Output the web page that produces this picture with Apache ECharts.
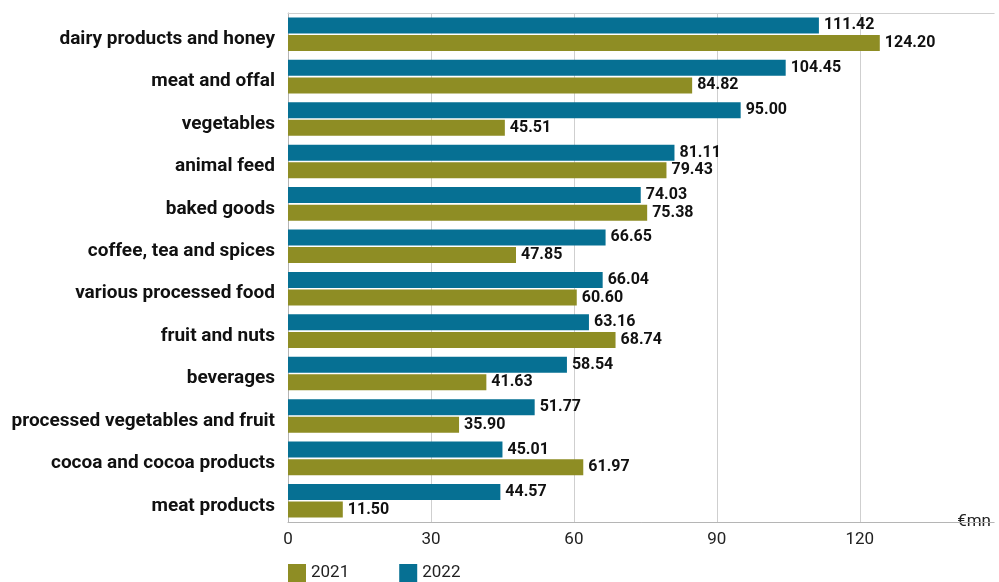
<!DOCTYPE html>
<html><head><meta charset="utf-8">
<script src="https://cdn.jsdelivr.net/npm/echarts@6/dist/echarts.min.js"></script>
<style>html,body{margin:0;padding:0;background:#fff}#c{width:999px;height:582px}</style>
</head><body><div id="c"></div>
<script>
const categories = ["dairy products and honey","meat and offal","vegetables","animal feed","baked goods","coffee, tea and spices","various processed food","fruit and nuts","beverages","processed vegetables and fruit","cocoa and cocoa products","meat products"];
const values2022 = [111.42,104.45,95.00,81.11,74.03,66.65,66.04,63.16,58.54,51.77,45.01,44.57];
const values2021 = [124.20,84.82,45.51,79.43,75.38,47.85,60.60,68.74,41.63,35.90,61.97,11.50];
const seriesNames = ["2021","2022"];
const axisUnit = "€mn";

const chart = echarts.init(document.getElementById('c'), null, {renderer:'canvas'});
const lbl = {show:true, position:'right', distance:5, color:'#111', fontFamily:'Roboto', fontWeight:'bold', fontSize:16, formatter:p=>p.value.toFixed(2)};
chart.setOption({
  animation:false,
  textStyle:{fontFamily:'Roboto'},
  grid:{left:288, right:0, top:13, bottom:60, containLabel:false},
  legend:{data:seriesNames, left:288, bottom:0, padding:0, itemWidth:18, itemHeight:18, itemGap:50, icon:'rect',
    textStyle:{fontFamily:'Roboto', fontSize:17, color:'#222'}},
  xAxis:[{type:'value', min:0, max:148.2, interval:30, position:'bottom',
    name:axisUnit, nameLocation:'end', nameGap:-43,
    nameTextStyle:{fontFamily:'Roboto', fontSize:17, color:'#222', backgroundColor:'#fff', padding:[6,5,0,6], align:'left', verticalAlign:'middle'},
    axisLine:{show:true, lineStyle:{color:'#b5b5b5', width:1}},
    axisTick:{show:false},
    axisLabel:{show:true, margin:9, fontFamily:'Roboto', fontSize:17, color:'#222', showMaxLabel:false},
    splitLine:{show:true, showMaxLine:false, lineStyle:{color:'#cfcfcf', width:1}}},
   {type:'value', min:0, max:148.2, interval:30, position:'top',
    axisLine:{show:true, lineStyle:{color:'#cfcfcf', width:1}}, axisTick:{show:false}, axisLabel:{show:false}, splitLine:{show:false}}],
  yAxis:{type:'category', data:categories, inverse:true,
    axisLine:{show:true, lineStyle:{color:'#b5b5b5', width:1}}, axisTick:{show:false},
    axisLabel:{margin:13, verticalAlign:'top', lineHeight:10, fontFamily:'Roboto', fontWeight:'bold', fontSize:19, color:'#111'}},
  series:[
    {name:'2022', type:'bar', data:values2022, barWidth:16, barGap:'10%', itemStyle:{color:'#067093'}, label:lbl},
    {name:'2021', type:'bar', data:values2021, barWidth:16, barGap:'10%', itemStyle:{color:'#8e8d24'}, label:lbl}
  ]
});
</script></body></html>
